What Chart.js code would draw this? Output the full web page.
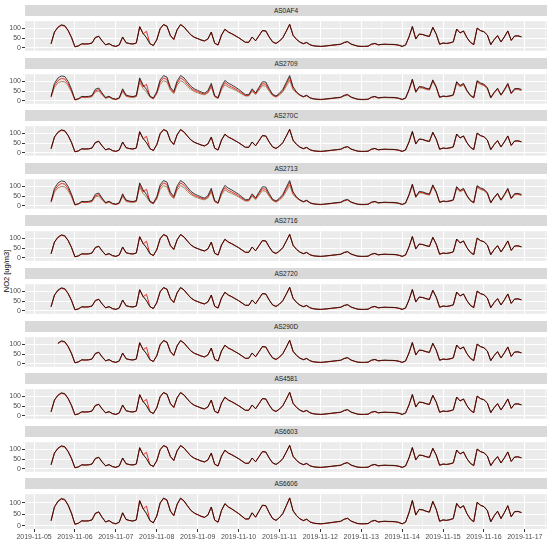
<!DOCTYPE html>
<html>
<head>
  <title>NO2 sensors vs reference</title>
  <script src="https://cdn.jsdelivr.net/npm/chart.js"></script>
  <style>
    body { margin: 0; background: #fff; font-family: "Liberation Sans", Arial, sans-serif; }
    #wrap { position: relative; width: 550px; height: 543px; overflow: hidden; }
    .strip {
      position: absolute; left: 25px; width: 522px; height: 11px;
      background: #d9d9d9; color: #1a1a1a; font-size: 6.5px; line-height: 11px; text-align: center;
    }
    canvas { position: absolute; left: 0; }
    #ytitle {
      position: absolute; left: 6px; top: 271px; font-size: 7.5px; color: #000; white-space: nowrap;
      transform: translate(-50%, -50%) rotate(-90deg);
    }
  </style>
</head>
<body>
<div id="wrap">
  <div id="ytitle">NO2 [ug/m3]</div>
</div>

<script>
  // panels (facets)
  const stations = ['AS0AF4', 'AS2709', 'AS270C', 'AS2713', 'AS2716', 'AS2720', 'AS290D', 'AS4581', 'AS6603', 'AS6606'];
  // x axis in hours after 2019-11-05 00:00, one value every 2 hours
  const firstHour = 10;
  const stepHours = 2;
  const dayLabels = ['2019-11-05', '2019-11-06', '2019-11-07', '2019-11-08', '2019-11-09', '2019-11-10',
                     '2019-11-11', '2019-11-12', '2019-11-13', '2019-11-14', '2019-11-15', '2019-11-16', '2019-11-17'];

  // reference station (red)
  const reference = [
    20, 80, 104, 115, 112, 88, 52, 5, 10, 20, 19, 20,
    24, 52, 58, 34, 15, 21, 11, 7, 14, 55, 26, 22,
    20, 24, 110, 72, 85, 22, 12, 40, 97, 118, 110, 62,
    42, 92, 118, 106, 85, 66, 54, 47, 40, 35, 45, 80,
    24, 14, 65, 94, 80, 72, 62, 52, 40, 28, 28, 55,
    36, 62, 88, 86, 55, 30, 22, 34, 52, 85, 120, 64,
    43, 29, 21, 27, 15, 10, 8, 7, 8, 10, 12, 14,
    16, 18, 27, 31, 19, 13, 8, 7, 7, 8, 18, 22,
    15, 17, 18, 17, 17, 16, 13, 7, 14, 55, 108, 45,
    70, 68, 62, 58, 104, 70, 18, 24, 22, 25, 30, 95,
    76, 86, 52, 28, 16, 100, 88, 82, 65, 16, 42, 62,
    30, 56, 86, 38, 60, 61, 56
  ];
  // sensor (black), most panels
  const sensor = [
    22, 82, 106, 118, 114, 90, 54, 6, 10, 21, 20, 21,
    25, 54, 60, 36, 16, 22, 12, 8, 15, 56, 27, 22,
    20, 25, 108, 74, 52, 22, 12, 42, 99, 120, 112, 64,
    44, 94, 120, 108, 87, 67, 55, 48, 41, 36, 46, 81,
    24, 15, 66, 96, 82, 73, 63, 53, 41, 29, 29, 56,
    37, 63, 89, 87, 56, 31, 23, 35, 53, 86, 121, 65,
    44, 30, 22, 28, 16, 11, 9, 8, 9, 11, 13, 15,
    17, 19, 28, 32, 20, 14, 9, 8, 8, 9, 19, 23,
    16, 18, 19, 18, 18, 17, 14, 8, 15, 56, 110, 47,
    71, 69, 63, 59, 106, 71, 19, 25, 23, 26, 31, 97,
    77, 87, 53, 29, 17, 102, 89, 83, 66, 17, 43, 63,
    31, 57, 87, 39, 61, 62, 57
  ];
  // sensor (black) reading high: AS2709, AS2713
  const sensorHigh = [
    24, 90, 117, 128, 125, 100, 60, 7, 11, 23, 22, 23,
    28, 60, 66, 40, 17, 24, 13, 9, 16, 62, 30, 25,
    22, 28, 118, 82, 58, 25, 14, 47, 108, 130, 122, 70,
    48, 103, 130, 118, 96, 75, 62, 54, 46, 40, 52, 90,
    27, 16, 73, 105, 91, 82, 71, 60, 46, 32, 32, 62,
    41, 70, 98, 97, 63, 34, 25, 39, 59, 95, 130, 72,
    46, 31, 22, 29, 16, 11, 9, 8, 9, 11, 13, 15,
    17, 19, 29, 33, 20, 14, 9, 8, 8, 9, 19, 23,
    16, 18, 19, 18, 18, 17, 14, 8, 15, 58, 112, 48,
    74, 72, 65, 61, 108, 73, 19, 25, 23, 26, 31, 99,
    79, 90, 55, 29, 17, 104, 92, 86, 68, 17, 44, 65,
    31, 59, 90, 40, 63, 64, 59
  ];
  // calibrated sensor (tan), reading low in AS2709, AS2713
  const sensorLow = [
    18, 70, 92, 100, 98, 78, 46, 4, 9, 18, 17, 18,
    21, 46, 51, 30, 13, 19, 10, 6, 12, 48, 23, 19,
    18, 21, 96, 64, 45, 19, 10, 35, 85, 104, 97, 55,
    37, 81, 104, 94, 75, 58, 48, 41, 35, 31, 40, 71,
    21, 12, 57, 83, 71, 64, 55, 46, 35, 25, 25, 49,
    32, 55, 78, 76, 49, 27, 19, 30, 46, 75, 106, 57,
    41, 28, 20, 26, 14, 9, 7, 6, 7, 9, 11, 13,
    15, 17, 25, 29, 18, 12, 7, 6, 6, 7, 17, 21,
    14, 16, 17, 16, 16, 15, 12, 6, 13, 52, 103, 43,
    67, 65, 59, 55, 99, 67, 17, 23, 21, 24, 28, 90,
    72, 82, 49, 26, 15, 95, 84, 78, 62, 15, 40, 59,
    28, 53, 82, 36, 57, 58, 53
  ];

  const series = { sensor: sensor, sensorHigh: sensorHigh, sensorLow: sensorLow };
  const panelBlack = ['sensor', 'sensorHigh', 'sensor', 'sensorHigh', 'sensor', 'sensor', 'sensor', 'sensor', 'sensor', 'sensor'];
  const panelTan   = ['sensor', 'sensorLow', 'sensor', 'sensorLow', 'sensor', 'sensor', 'sensor', 'sensor', 'sensor', 'sensor'];
  const panelStart = [10, 10, 10, 10, 10, 10, 14, 10, 10, 10]; // first hour with data

  function points(values, start) {
    return values.map((v, i) => {
      const h = firstHour + i * stepHours;
      return { x: h, y: h < start ? null : v };
    });
  }

  // keep the panel background under the grid
  const panelBg = {
    id: 'panelBg',
    beforeDraw(chart) {
      const a = chart.chartArea, c = chart.ctx;
      c.save();
      c.fillStyle = '#ebebeb';
      c.fillRect(a.left, a.top, a.right - a.left, a.bottom - a.top);
      c.restore();
    }
  };

  const wrap = document.getElementById('wrap');
  const period = 52.6, stripH = 11, panelH = 40;

  stations.forEach((name, i) => {
    const last = i === stations.length - 1;
    const top = Math.round(5 + i * period);

    const strip = document.createElement('div');
    strip.className = 'strip';
    strip.style.top = top + 'px';
    strip.textContent = name;
    wrap.appendChild(strip);

    const cv = document.createElement('canvas');
    cv.width = 550;
    cv.height = panelH + (last ? 14 : 0);
    cv.style.top = (top + stripH) + 'px';
    wrap.appendChild(cv);

    const start = panelStart[i];
    new Chart(cv.getContext('2d'), {
      type: 'line',
      data: {
        datasets: [{
          data: points(series[panelBlack[i]], start),
          borderColor: 'rgba(0,0,0,0.75)', borderWidth: 1
        }, {
          data: points(reference, start),
          borderColor: '#e8302a', borderWidth: 1
        }, {
          data: points(series[panelTan[i]], start),
          borderColor: '#a8875e', borderWidth: 1
        }]
      },
      options: {
        responsive: false,
        animation: false,
        events: [],
        layout: { padding: { left: 0, right: 3, top: 0, bottom: 0 } },
        elements: { point: { radius: 0 }, line: { tension: 0 } },
        plugins: { legend: { display: false }, tooltip: { enabled: false } },
        scales: {
          x: {
            type: 'linear', min: -5.3, max: 301,
            border: { display: false },
            grid: {
              color: '#ffffff',
              lineWidth: ctx => (ctx.tick && ctx.tick.value % 24 === 0) ? 1 : 0.5,
              drawTicks: last,
              tickLength: 3,
              tickColor: ctx => (ctx.tick && ctx.tick.value % 24 === 0) ? '#333333' : 'rgba(0,0,0,0)'
            },
            ticks: {
              display: last,
              stepSize: 12,
              includeBounds: false,
              autoSkip: false,
              maxTicksLimit: 60,
              maxRotation: 0,
              padding: 1,
              color: '#4d4d4d',
              font: { family: 'Liberation Sans', size: 7 },
              callback: v => v % 24 === 0 ? dayLabels[v / 24] : ''
            },
            afterFit: s => { s.height = last ? 14 : 0; }
          },
          y: {
            min: -15, max: 137,
            border: { display: false },
            grid: {
              color: '#ffffff',
              lineWidth: ctx => (ctx.tick && ctx.tick.value % 50 === 0) ? 1 : 0.5,
              tickLength: 3,
              tickColor: ctx => (ctx.tick && ctx.tick.value % 50 === 0) ? '#333333' : 'rgba(0,0,0,0)'
            },
            ticks: {
              stepSize: 25,
              includeBounds: false,
              padding: 1,
              color: '#4d4d4d',
              font: { family: 'Liberation Sans', size: 7 },
              callback: v => v % 50 === 0 ? v : ''
            },
            afterFit: s => { s.width = 25; }
          }
        }
      },
      plugins: [panelBg]
    });
  });
</script>
</body>
</html>
